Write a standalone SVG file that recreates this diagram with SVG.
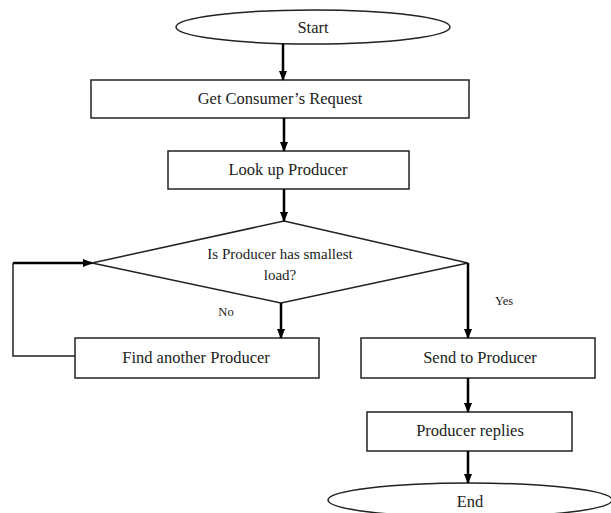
<svg xmlns="http://www.w3.org/2000/svg" width="611" height="513" viewBox="0 0 611 513">
<defs>
<marker id="ah" markerWidth="10" markerHeight="10" refX="9" refY="5" orient="auto" markerUnits="userSpaceOnUse">
<path d="M0,1 L10,5 L0,9 Z" fill="#000"/>
</marker>
<style>
.box{fill:#fff;stroke:#222;stroke-width:1.5}
.t{font-family:"Liberation Serif","Times New Roman",serif;font-size:16.5px;fill:#222;text-anchor:middle;dominant-baseline:central}
.d{font-size:15px}
.s{font-size:12.5px}
.c{stroke:#000;stroke-width:2.5;fill:none}
.cl{stroke:#222;stroke-width:1.5;fill:none}
</style>
</defs>
<rect width="611" height="513" fill="#fff"/>
<g id="start"><ellipse class="box" cx="313" cy="27" rx="137" ry="17"/><text class="t" x="313" y="27">Start</text></g>
<g id="get"><rect class="box" x="91" y="80" width="378" height="38"/><text class="t" x="280" y="98">Get Consumer’s Request</text></g>
<g id="lookup"><rect class="box" x="168" y="151" width="241" height="38"/><text class="t" x="288" y="169">Look up Producer</text></g>
<g id="decision"><polygon class="box" points="284,221 468,263 281,303 92,263"/><text class="t d" x="280" y="254">Is Producer has smallest</text><text class="t d" x="280" y="275">load?</text></g>
<g id="find"><rect class="box" x="75" y="338" width="244" height="40"/><text class="t" x="196" y="357">Find another Producer</text></g>
<g id="send"><rect class="box" x="361" y="338" width="234" height="40"/><text class="t" x="480" y="357">Send to Producer</text></g>
<g id="replies"><rect class="box" x="367" y="412" width="205" height="39"/><text class="t" x="470" y="430">Producer replies</text></g>
<g id="end"><ellipse class="box" cx="470" cy="500" rx="142" ry="17"/><text class="t" x="470" y="501">End</text></g>
<g id="connectors">
<line class="c" x1="283" y1="44" x2="283" y2="80" marker-end="url(#ah)"/>
<line class="c" x1="284" y1="118" x2="284" y2="151" marker-end="url(#ah)"/>
<line class="c" x1="284" y1="189" x2="284" y2="221" marker-end="url(#ah)"/>
<line class="c" x1="281" y1="303" x2="281" y2="338" marker-end="url(#ah)"/>
<line class="c" x1="468" y1="263" x2="468" y2="338" marker-end="url(#ah)"/>
<line class="c" x1="468" y1="378" x2="468" y2="412" marker-end="url(#ah)"/>
<line class="c" x1="468" y1="451" x2="468" y2="483" marker-end="url(#ah)"/>
<polyline class="cl" points="75,356 13,356 13,263"/>
<line class="c" x1="13" y1="263" x2="92" y2="263" marker-end="url(#ah)"/>
<text class="t s" x="226" y="312">No</text>
<text class="t s" x="504" y="301">Yes</text>
</g>
</svg>
